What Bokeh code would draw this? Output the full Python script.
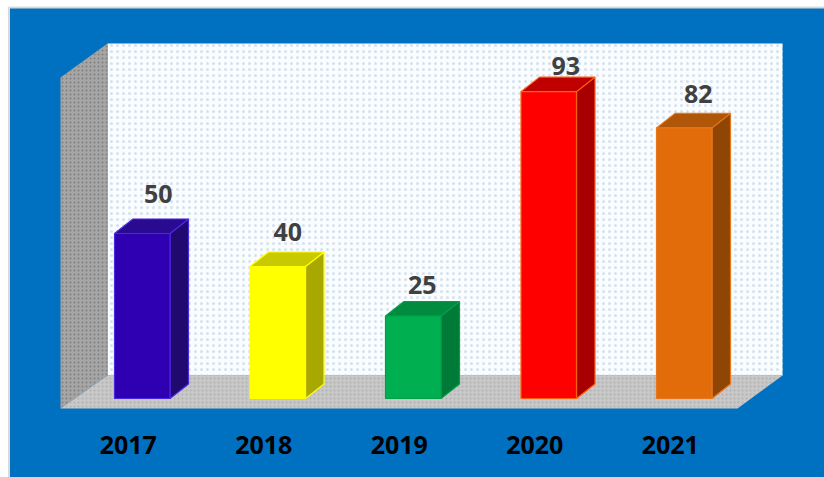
from bokeh.plotting import figure
from bokeh.models import Range1d
from bokeh.core.properties import value
from bokeh.embed import file_html
from bokeh.resources import INLINE

# ---- data
years = ["2017", "2018", "2019", "2020", "2021"]
values = [50, 40, 25, 93, 82]

# ---- styles
front_colors = ["#2E00B2", "#FFFF00", "#00B050", "#FF0000", "#E36C0A"]
side_colors = ["#200A70", "#A8A800", "#007A37", "#A80000", "#8F4504"]
top_colors = ["#2A0A90", "#C9C900", "#008B3F", "#C00000", "#B05608"]
edge_colors = ["#4A28E0", "#FFFF00", "#00A04A", "#FF6010", "#E8761A"]
BLUE = "#0070C0"

# ---- layout: pixels of the picture
W, H = 824, 477
X0, DX = 141.75, 135.5   # centre of first bar, bar spacing
Y0, SY = 398.0, 3.3     # baseline, pixels per unit
BAR_W = 55.5
DEPTH_X, DEPTH_Y = 18.5, 14.5
LABEL_NUDGE = [(16, 40), (10, 35), (9, 31), (17, 26), (14, 34)]


def ux(px):
    return (px - X0) / DX


def uy(py):
    return (Y0 - py) / SY


p = figure(width=W, height=H, output_backend="svg", toolbar_location=None,
           x_range=Range1d(ux(0), ux(W)),
           y_range=Range1d(uy(H), uy(0)),
           min_border=0, background_fill_color="#FFFFFF", border_fill_color="#FFFFFF",
           outline_line_color=None)
p.axis.visible = False
p.grid.visible = False

# chart area
p.patch([ux(8.5), ux(W + 2), ux(W + 2), ux(8.5)], [uy(7), uy(7), uy(H + 2), uy(H + 2)],
        fill_color=BLUE, line_color="#D9D9D9", line_width=2)

# walls and floor
p.patch([ux(107), ux(782), ux(782), ux(107)], [uy(43), uy(43), uy(375), uy(375)],
        fill_color="#FAFCFE", line_color=None,
        hatch_pattern="dot", hatch_color="#D2E3EF", hatch_scale=6, hatch_weight=2)
p.patch([ux(60), ux(107), ux(107), ux(60)], [uy(77), uy(43), uy(375), uy(408)],
        fill_color="#A6A6A6", line_color=None,
        hatch_pattern="dot", hatch_color="#808080", hatch_scale=4, hatch_weight=1)
p.patch([ux(60), ux(107), ux(782), ux(737)], [uy(408), uy(375), uy(375), uy(408)],
        fill_color="#C8C8C8", line_color=None,
        hatch_pattern="dot", hatch_color="#B0B0B0", hatch_scale=4, hatch_weight=1)

# 3D bars
hw = BAR_W / 2 / DX
dx = DEPTH_X / DX
dy = DEPTH_Y / SY
for i, v in enumerate(values):
    l, r = i - hw, i + hw
    p.patch([r, r + dx, r + dx, r], [0, dy, v + dy, v],
            fill_color=side_colors[i], line_color=edge_colors[i], line_width=1.2)
    p.patch([l, r, r + dx, l + dx], [v, v, v + dy, v + dy],
            fill_color=top_colors[i], line_color=edge_colors[i], line_width=1.2)
    p.patch([l, r, r, l], [0, 0, v, v],
            fill_color=front_colors[i], line_color=edge_colors[i], line_width=1.2)

# value labels
p.text([i + n[0] / DX for i, n in enumerate(LABEL_NUDGE)],
       [v + n[1] / SY for v, n in zip(values, LABEL_NUDGE)],
       text=[str(v) for v in values], text_font=value("Open Sans"),
       text_font_style="bold", text_font_size="25px", text_color="#404040",
       text_align="center", text_baseline="middle")

# category labels
p.text([i - 14 / DX for i in range(len(years))], [uy(444)] * len(years), text=years,
       text_font=value("Open Sans"), text_font_style="bold", text_font_size="25px",
       text_color="#000000", text_align="center", text_baseline="middle")

open("out.html", "w").write(file_html(p, INLINE))
